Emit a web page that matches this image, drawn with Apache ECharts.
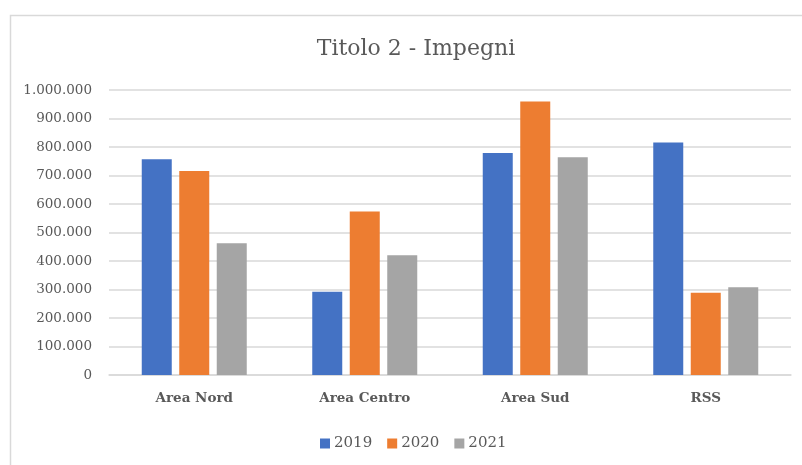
<!DOCTYPE html>
<html>
<head>
<meta charset="utf-8">
<style>
  html, body { margin: 0; padding: 0; background: #ffffff; }
  #chart { width: 802px; height: 465px; }
</style>
<script src="https://cdn.jsdelivr.net/npm/echarts@6/dist/echarts.min.js"></script>
</head>
<body>
<div id="chart"></div>
<script>
// Commitments by area, per year
const categories = ['Area Nord', 'Area Centro', 'Area Sud', 'RSS'];
const years = ['2019', '2020', '2021'];
const values2019 = [757000, 292000, 779000, 816000];
const values2020 = [716000, 574000, 960000, 289000];
const values2021 = [462000, 420000, 764000, 308000];
const colors = ['#4472C4', '#ED7D31', '#A5A5A5'];

const serif = '"DejaVu Serif", "Liberation Serif", serif';
const textGray = '#595959';
const gridGray = '#D9D9D9';

// Italian thousands separator: 1000000 -> 1.000.000
function formatIt(v) {
  return String(Math.round(v)).replace(/\B(?=(\d{3})+(?!\d))/g, '.');
}

const seriesValues = [values2019, values2020, values2021];

const chart = echarts.init(document.getElementById('chart'), null, { renderer: 'canvas' });

chart.setOption({
  animation: false,
  backgroundColor: '#ffffff',
  color: colors,
  graphic: [{
    type: 'rect',
    left: 8,
    top: 13,
    shape: { width: 1000, height: 1000 },
    style: { fill: 'none', stroke: gridGray, lineWidth: 1.5 },
    silent: true,
    z: -1
  }],
  title: {
    text: 'Titolo 2 - Impegni',
    left: 411,
    top: 33,
    textAlign: 'center',
    textStyle: {
      fontFamily: serif,
      fontSize: 22,
      fontWeight: 'normal',
      color: textGray
    }
  },
  legend: {
    data: years,
    left: 315,
    top: 431,
    icon: 'rect',
    itemWidth: 10,
    itemHeight: 10,
    itemGap: 15,
    textStyle: {
      fontFamily: serif,
      fontSize: 15,
      color: textGray,
      padding: [0, 0, 0, -1]
    }
  },
  grid: {
    left: 109,
    right: 11,
    top: 90,
    bottom: 90,
    containLabel: false
  },
  xAxis: {
    type: 'category',
    data: categories,
    axisLine: { show: true, lineStyle: { color: gridGray, width: 1.5 } },
    axisTick: { show: false },
    axisLabel: {
      margin: 16,
      fontFamily: serif,
      fontSize: 13.5,
      fontWeight: 'bold',
      color: textGray
    }
  },
  yAxis: {
    type: 'value',
    min: 0,
    max: 1000000,
    interval: 100000,
    axisLine: { show: false },
    axisTick: { show: false },
    splitLine: { lineStyle: { color: gridGray, width: 1.5 } },
    axisLabel: {
      margin: 17,
      fontFamily: serif,
      fontSize: 13.5,
      color: textGray,
      formatter: formatIt
    }
  },
  series: years.map((y, i) => ({
    name: y,
    type: 'bar',
    data: seriesValues[i],
    barWidth: 30,
    barGap: '25%',
    itemStyle: { color: colors[i] }
  }))
});
</script>
</body>
</html>
